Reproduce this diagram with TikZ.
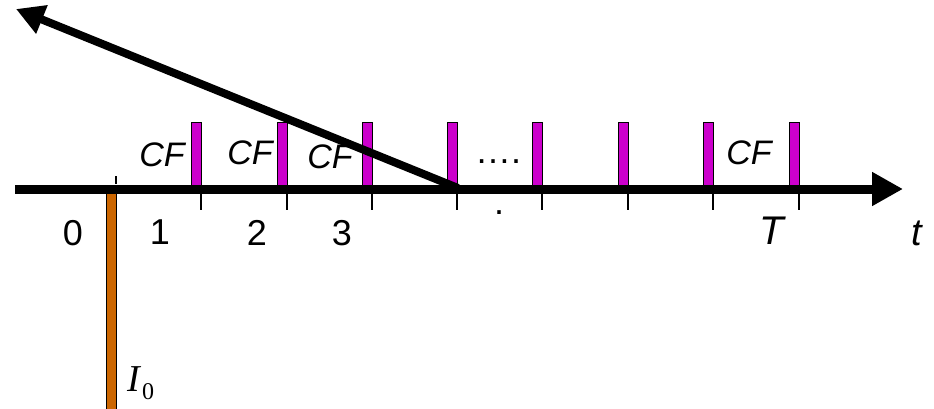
\documentclass[tikz,border=0pt]{standalone}
\usepackage{fontspec}
\setmainfont{Liberation Sans}
\newfontfamily\tnrfont{Liberation Serif}
\usetikzlibrary{arrows.meta}
\definecolor{cfmag}{RGB}{204,0,204}
\definecolor{invor}{RGB}{204,102,0}
\tikzset{
  cfbar/.style={fill=cfmag, draw=black, line width=0.8pt},
  tickmark/.style={line width=1.3pt},
  lab/.style={font=\fontsize{36}{40}\selectfont, inner sep=0pt},
  cflab/.style={font=\fontsize{34}{40}\selectfont\itshape, inner sep=0pt},
}
\begin{document}
\begin{tikzpicture}[x=1pt,y=-1pt]
\useasboundingbox (0,0) rectangle (934,409);
% orange initial investment bar
\filldraw[fill=invor, draw=black, line width=0.8pt] (106,188) rectangle (116,412);
% magenta cash flow bars
\foreach \xr [count=\i] in {201,287,372,457,542,628,713,799}{
  \filldraw[cfbar] (\xr-10,122) rectangle (\xr,188);
  \draw[tickmark] (\xr,194) -- (\xr,210);
}
\draw[tickmark] (116,176) -- (116,184);
% labels
\node[cflab] (cf1) at (162,155) {CF};
\node[cflab] (cf2) at (250,153) {CF};
\node[cflab] (cf3) at (330,157) {CF};
\node[cflab] (cf4) at (749,153) {CF};
\node[lab] (dots) at (498,162) {\ldots.};
\node[lab] (dot2) at (499,213) {.};
\node[lab] (n0) at (73,233) {0};
\node[lab] (n1) at (160,232) {1};
\node[lab] (n2) at (257,233) {2};
\node[lab] (n3) at (342,233) {3};
\node[lab, font=\fontsize{40}{44}\selectfont\itshape] (nT) at (772,231) {T};
\node[lab, font=\fontsize{38}{42}\selectfont\itshape] (nt) at (917,233) {t};
\node[inner sep=0pt, font=\fontsize{38}{42}\selectfont\tnrfont] (i0) at (141,383) {\textit{I}\raisebox{-0.22em}{\fontsize{24}{26}\selectfont 0}};
% axis
\coordinate (a0) at (15,189);
\coordinate (a1) at (903,189);
\draw[line width=9pt, -{Triangle[length=31pt,width=32pt]}] (a0) -- (a1);
% discount arrow
\coordinate (d0) at (458,188);
\coordinate (d1) at (16,9);
\draw[line width=8pt, -{Triangle[length=28pt,width=29pt]}] (d0) -- (d1);
\end{tikzpicture}
\end{document}
